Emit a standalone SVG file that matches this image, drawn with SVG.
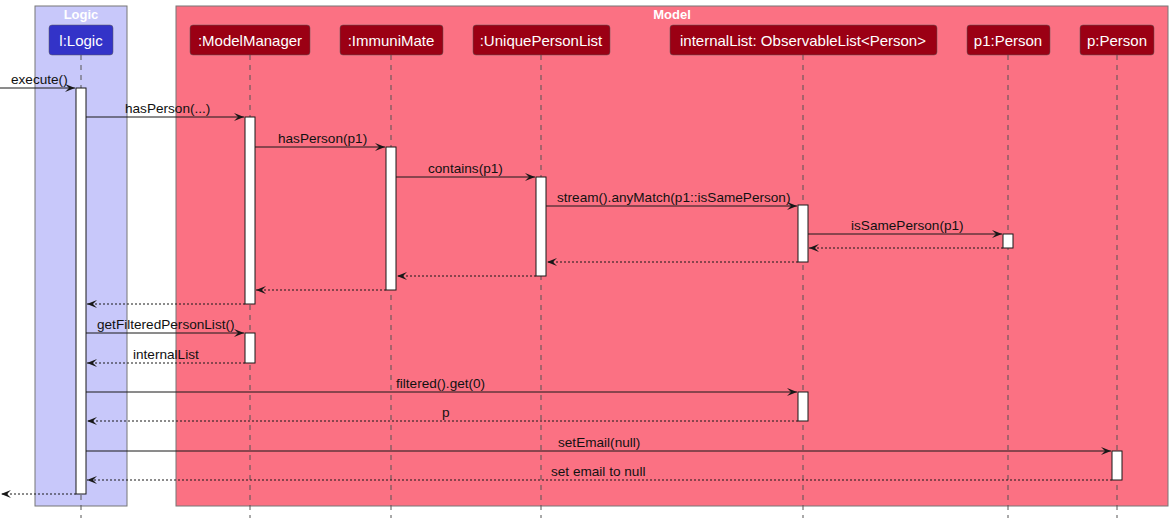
<svg xmlns="http://www.w3.org/2000/svg" width="1173" height="518" viewBox="0 0 1173 518">
<defs>
<style>
.box{stroke:#777;stroke-width:1}
.title{font-family:"Liberation Sans",Arial,sans-serif;font-size:13px;font-weight:bold;fill:#fff;text-anchor:middle}
.pl{font-family:"Liberation Sans",Arial,sans-serif;font-size:15px;fill:#fff;text-anchor:middle}
.lb{font-family:"Liberation Sans",Arial,sans-serif;font-size:13.6px;fill:#111}
.life{stroke:#555;stroke-width:1;stroke-dasharray:5,5}
.act{fill:#fff;stroke:#181818;stroke-width:1}
.msg{stroke:#181818;stroke-width:1;fill:none}
.ret{stroke:#181818;stroke-width:1;fill:none;stroke-dasharray:2,2}
.pm{fill:#9B0014;stroke:#5a5a5a;stroke-width:0.5}
.pb{fill:#3333C8;stroke:#5a5a5a;stroke-width:0.5}
</style>
<marker id="ah" viewBox="0 0 10 8" refX="10" refY="4" markerWidth="10" markerHeight="8" markerUnits="userSpaceOnUse" orient="auto">
<path d="M0,0 L10,4 L0,8 L4,4 Z" fill="#181818"/>
</marker>
</defs>
<rect width="1173" height="518" fill="#fff"/>
<g id="box-logic">
<rect class="box" x="35" y="6" width="92" height="500" fill="#C8C8FA"/>
<text class="title" x="81" y="19">Logic</text>
</g>
<g id="box-model">
<rect class="box" x="176" y="6" width="992" height="500" fill="#FB7183"/>
<text class="title" x="672" y="19">Model</text>
</g>
<g id="lifelines">
<line class="life" x1="81" y1="55" x2="81" y2="518"/>
<line class="life" x1="250" y1="55" x2="250" y2="518"/>
<line class="life" x1="391" y1="55" x2="391" y2="518"/>
<line class="life" x1="541" y1="55" x2="541" y2="518"/>
<line class="life" x1="803" y1="55" x2="803" y2="518"/>
<line class="life" x1="1008" y1="55" x2="1008" y2="518"/>
<line class="life" x1="1117" y1="55" x2="1117" y2="518"/>
</g>
<g id="p-logic"><rect class="pb" x="49" y="25" width="64" height="30" rx="3"/><text class="pl" x="81" y="45.5">l:Logic</text></g>
<g id="p-modelmanager"><rect class="pm" x="190" y="25" width="120" height="30" rx="3"/><text class="pl" x="250" y="45.5">:ModelManager</text></g>
<g id="p-immunimate"><rect class="pm" x="340" y="25" width="103" height="30" rx="3"/><text class="pl" x="391" y="45.5">:ImmuniMate</text></g>
<g id="p-uniquepersonlist"><rect class="pm" x="473" y="25" width="137" height="30" rx="3"/><text class="pl" x="541" y="45.5">:UniquePersonList</text></g>
<g id="p-internallist"><rect class="pm" x="670" y="25" width="267" height="30" rx="3"/><text class="pl" x="803" y="45.5">internalList: ObservableList&lt;Person&gt;</text></g>
<g id="p-p1person"><rect class="pm" x="967" y="25" width="83" height="30" rx="3"/><text class="pl" x="1008" y="45.5">p1:Person</text></g>
<g id="p-pperson"><rect class="pm" x="1080" y="25" width="74" height="30" rx="3"/><text class="pl" x="1117" y="45.5">p:Person</text></g>
<g id="activations">
<rect class="act" x="76" y="88" width="10" height="406"/>
<rect class="act" x="245" y="117" width="10" height="187"/>
<rect class="act" x="245" y="333" width="10" height="30"/>
<rect class="act" x="386" y="147" width="10" height="143"/>
<rect class="act" x="536" y="177" width="10" height="99"/>
<rect class="act" x="798" y="205" width="10" height="57"/>
<rect class="act" x="798" y="392" width="10" height="29"/>
<rect class="act" x="1003" y="234" width="10" height="14"/>
<rect class="act" x="1112" y="451" width="10" height="29"/>
</g>
<g id="connectors">
<line class="msg" x1="0" y1="88" x2="75" y2="88" marker-end="url(#ah)"/>
<line class="msg" x1="86" y1="117" x2="244" y2="117" marker-end="url(#ah)"/>
<line class="msg" x1="255" y1="147" x2="385" y2="147" marker-end="url(#ah)"/>
<line class="msg" x1="396" y1="177" x2="535" y2="177" marker-end="url(#ah)"/>
<line class="msg" x1="546" y1="206" x2="797" y2="206" marker-end="url(#ah)"/>
<line class="msg" x1="808" y1="234" x2="1002" y2="234" marker-end="url(#ah)"/>
<line class="ret" x1="1003" y1="248" x2="809" y2="248" marker-end="url(#ah)"/>
<line class="ret" x1="798" y1="262" x2="547" y2="262" marker-end="url(#ah)"/>
<line class="ret" x1="536" y1="276" x2="397" y2="276" marker-end="url(#ah)"/>
<line class="ret" x1="386" y1="290" x2="256" y2="290" marker-end="url(#ah)"/>
<line class="ret" x1="245" y1="304" x2="87" y2="304" marker-end="url(#ah)"/>
<line class="msg" x1="86" y1="333" x2="244" y2="333" marker-end="url(#ah)"/>
<line class="ret" x1="245" y1="363" x2="87" y2="363" marker-end="url(#ah)"/>
<line class="msg" x1="86" y1="392" x2="797" y2="392" marker-end="url(#ah)"/>
<line class="ret" x1="798" y1="421" x2="87" y2="421" marker-end="url(#ah)"/>
<line class="msg" x1="86" y1="451" x2="1111" y2="451" marker-end="url(#ah)"/>
<line class="ret" x1="1112" y1="480" x2="87" y2="480" marker-end="url(#ah)"/>
<line class="ret" x1="76" y1="494" x2="1" y2="494" marker-end="url(#ah)"/>
</g>
<g id="labels">
<text class="lb" x="11" y="84">execute()</text>
<text class="lb" x="125" y="113">hasPerson(...)</text>
<text class="lb" x="278" y="143">hasPerson(p1)</text>
<text class="lb" x="428" y="173">contains(p1)</text>
<text class="lb" x="557" y="202">stream().anyMatch(p1::isSamePerson)</text>
<text class="lb" x="851" y="230">isSamePerson(p1)</text>
<text class="lb" x="97" y="329">getFilteredPersonList()</text>
<text class="lb" x="133" y="359">internalList</text>
<text class="lb" x="396" y="388">filtered().get(0)</text>
<text class="lb" x="442" y="417">p</text>
<text class="lb" x="558" y="447">setEmail(null)</text>
<text class="lb" x="551" y="476">set email to null</text>
</g>
</svg>
